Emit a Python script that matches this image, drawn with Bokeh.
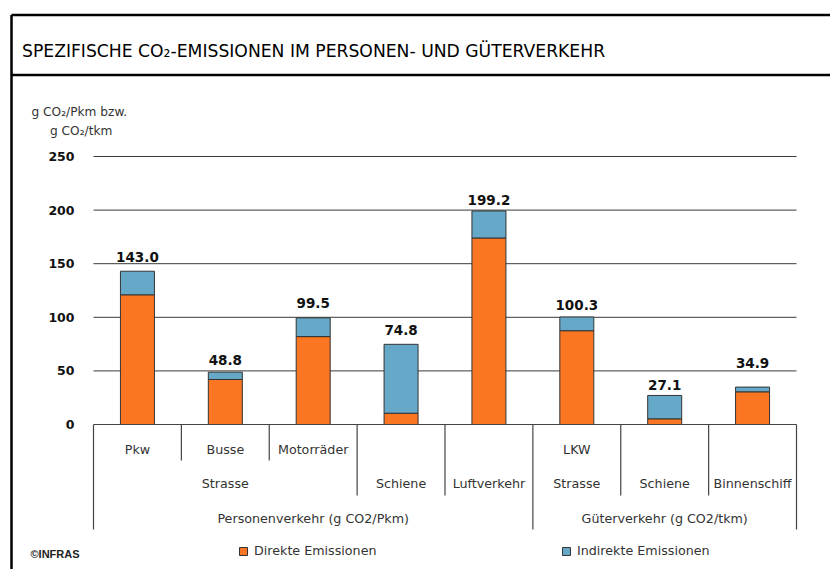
from bokeh.plotting import figure
from bokeh.models import Range1d, Legend, LegendItem, ColumnDataSource
from bokeh.core.properties import value
from bokeh.embed import file_html
from bokeh.resources import INLINE

# ---------------- data ----------------
categories = ["Pkw", "Busse", "Motorräder", "Schiene", "Luftverkehr", "LKW", "Schiene", "Binnenschiff"]
direkte = [121.0, 42.0, 82.0, 10.5, 174.0, 87.5, 5.3, 30.5]
indirekte = [22.0, 6.8, 17.5, 64.3, 25.2, 12.8, 21.8, 4.4]
total_labels = ["143.0", "48.8", "99.5", "74.8", "199.2", "100.3", "27.1", "34.9"]
y_ticks = [0, 50, 100, 150, 200, 250]
level1_labels = ["Pkw", "Busse", "Motorräder", "", "", "LKW", "", ""]
level2_groups = [("Strasse", 0, 3), ("Schiene", 3, 4), ("Luftverkehr", 4, 5),
                 ("Strasse", 5, 6), ("Schiene", 6, 7), ("Binnenschiff", 7, 8)]
level3_groups = [("Personenverkehr (g CO2/Pkm)", 0, 5), ("Güterverkehr (g CO2/tkm)", 5, 8)]
boundary_depth = [3, 1, 1, 2, 2, 3, 2, 2, 3]

title_text = "SPEZIFISCHE CO₂-EMISSIONEN IM PERSONEN- UND GÜTERVERKEHR"
ytitle1 = "g CO₂/Pkm bzw."
ytitle2 = "g CO₂/tkm"
source_text = "©INFRAS"
legend_labels = ["Direkte Emissionen", "Indirekte Emissionen"]

# layout: lift of each total label above its bar (screen px)
label_lift = [14, 12, 15, 14, 11, 12, 10, 24]

ORANGE = "#FA7623"
BLUE = "#66A8C8"
EDGE = "#333333"

# ---------------- geometry ----------------
W, H = 830, 569
X0, XS = 93.0, 87.875      # px of x=0, px per category
Y0, YS = 424.0, 1.072      # px (from top) of y=0, px per unit


def px(x_px):
    return (x_px - X0) / XS


def py(y_px):
    return (Y0 - y_px) / YS


p = figure(width=W, height=H, output_backend="svg", toolbar_location=None,
           x_range=Range1d(-X0 / XS, (W - X0) / XS),
           y_range=Range1d(-(H - Y0) / YS, Y0 / YS),
           x_axis_location=None, y_axis_location=None,
           min_border=0, min_border_left=0, min_border_right=0,
           min_border_top=0, min_border_bottom=0)
p.grid.visible = False
p.outline_line_color = None
p.background_fill_color = "white"
p.border_fill_color = "white"

n = len(categories)
xs = [i + 0.5 for i in range(n)]
tops = [d + ind for d, ind in zip(direkte, indirekte)]
bw = 34 / XS

# frame lines
p.segment(x0=[px(11), px(11), px(11)], y0=[py(14.5), py(14.5), py(74.5)],
          x1=[px(11), px(900), px(900)], y1=[py(700), py(14.5), py(74.5)],
          line_color="black", line_width=2.5)

# title
p.text(x=[px(21.5)], y=[py(50)], text=[title_text], text_font=value("DejaVu Sans"),
       text_font_size="17.2px", text_align="left", text_baseline="middle", text_color="#000000")

# y axis title
p.text(x=[px(31), px(49.5)], y=[py(111), py(130)], text=[ytitle1, ytitle2],
       text_font=value("DejaVu Sans"), text_font_size="12.2px",
       text_align="left", text_baseline="middle", text_color="#333333")

# gridlines
grid_y = [t for t in y_ticks if t > 0]
p.segment(x0=[0] * len(grid_y), x1=[n] * len(grid_y), y0=grid_y, y1=grid_y,
          line_color="#3a3a3a", line_width=1)

# y tick labels
p.text(x=[px(74)] * len(y_ticks), y=y_ticks, text=[str(t) for t in y_ticks],
       text_font=value("DejaVu Sans"), text_font_style="bold", text_font_size="12.5px",
       text_align="right", text_baseline="middle", text_color="#111111")

# bars
src = ColumnDataSource(dict(x=xs, d=direkte, t=tops, lab=total_labels,
                            off=[-v for v in label_lift]))
r_dir = p.vbar(x="x", bottom=0, top="d", width=bw, source=src,
               fill_color=ORANGE, line_color=EDGE, line_width=1)
r_ind = p.vbar(x="x", bottom="d", top="t", width=bw, source=src,
               fill_color=BLUE, line_color=EDGE, line_width=1)

# total labels
p.text(x="x", y="t", text="lab", source=src, text_font=value("DejaVu Sans"),
       text_font_style="bold", text_font_size="13.5px", text_align="center",
       text_baseline="middle", y_offset="off", text_color="#111111")

# category hierarchy axis
row_bottom = {1: py(460), 2: py(495), 3: py(529)}
p.segment(x0=[0], x1=[n], y0=[0], y1=[0], line_color="#444444", line_width=1.2)
p.segment(x0=list(range(n + 1)), x1=list(range(n + 1)),
          y0=[0] * (n + 1), y1=[row_bottom[d] for d in boundary_depth],
          line_color="#444444", line_width=1.2)

lab_font = value("DejaVu Sans")
p.text(x=xs, y=[py(449)] * n, text=level1_labels, text_font=lab_font,
       text_font_size="12.7px", text_align="center", text_baseline="middle", text_color="#333333")
p.text(x=[(a + b) / 2 for _, a, b in level2_groups], y=[py(483)] * len(level2_groups),
       text=[g for g, _, _ in level2_groups], text_font=lab_font,
       text_font_size="12.7px", text_align="center", text_baseline="middle", text_color="#333333")
p.text(x=[(a + b) / 2 for _, a, b in level3_groups], y=[py(518)] * len(level3_groups),
       text=[g for g, _, _ in level3_groups], text_font=lab_font,
       text_font_size="12.7px", text_align="center", text_baseline="middle", text_color="#333333")

# source
p.text(x=[px(30)], y=[py(553)], text=[source_text], text_font=value("Liberation Sans"),
       text_font_style="bold", text_font_size="11px", text_align="left",
       text_baseline="middle", text_color="#222222")

# legends
for r, lab, lx in [(r_dir, legend_labels[0], 238), (r_ind, legend_labels[1], 561)]:
    lg = Legend(items=[LegendItem(label=lab, renderers=[r])], location=(lx, 11),
                orientation="horizontal", glyph_width=10, glyph_height=10,
                label_standoff=6, label_height=10, padding=0, margin=0, spacing=0,
                border_line_color=None, background_fill_alpha=0,
                label_text_font="DejaVu Sans", label_text_font_size="12.7px",
                label_text_color="#333333")
    p.add_layout(lg, "center")

open("out.html", "w").write(file_html(p, INLINE))
